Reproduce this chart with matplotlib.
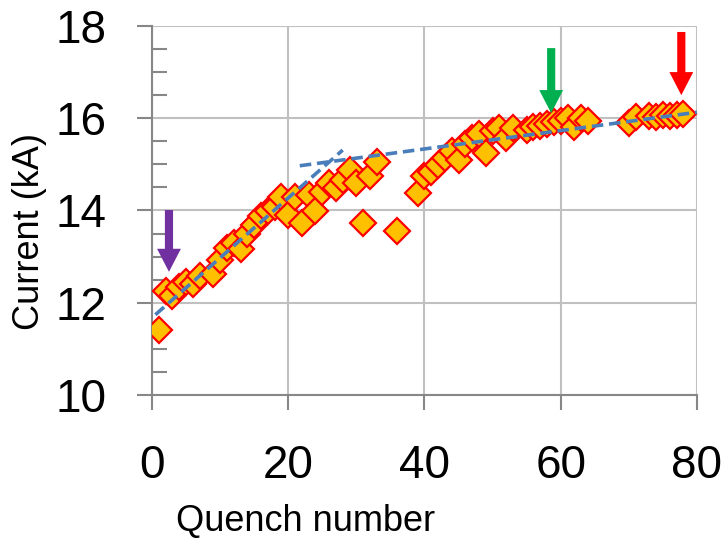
import matplotlib
matplotlib.use("Agg")
import matplotlib.pyplot as plt
from matplotlib.ticker import MultipleLocator

plt.rcParams['font.family'] = ['Liberation Sans', 'DejaVu Sans']

# quench number vs quench current (kA)
quench = [1, 2, 3, 4, 5, 6, 7, 9, 10, 11, 12, 13, 14, 15, 16, 17, 18, 19, 20,
          21, 22, 23, 24, 25, 26, 27, 28, 29, 30, 31, 32, 33, 36, 39, 40, 41,
          42, 43, 44, 45, 46, 47, 48, 49, 50, 51, 52, 53, 55, 56, 57, 58, 59,
          60, 61, 62, 63, 64, 70, 71, 73, 74, 75, 76, 77, 78]
current = [11.40, 12.25, 12.15, 12.35, 12.45, 12.40, 12.57, 12.62, 12.93, 13.19,
           13.30, 13.16, 13.50, 13.69, 13.87, 13.98, 14.08, 14.30, 13.90, 14.30,
           13.73, 14.34, 13.98, 14.41, 14.59, 14.48, 14.66, 14.88, 14.59, 13.73,
           14.74, 15.06, 13.55, 14.38, 14.74, 14.84, 14.99, 15.13, 15.28, 15.10,
           15.45, 15.58, 15.65, 15.24, 15.72, 15.78, 15.57, 15.78, 15.74, 15.80,
           15.84, 15.88, 15.92, 15.93, 16.00, 15.82, 16.00, 15.93, 15.90, 16.03,
           16.05, 16.03, 16.07, 16.05, 16.07, 16.10]

# linear trend lines (end points)
trend1_x = [0.5, 28.0]
trend1_y = [11.74, 15.31]
trend2_x = [21.7, 80.0]
trend2_y = [14.97, 16.13]

# arrows: x position, tail y, tip y, colour
arrow_x = [2.5, 58.6, 77.7]
arrow_top = [14.01, 17.52, 17.87]
arrow_tip = [12.67, 16.11, 16.50]
arrow_colors = ['#7030A0', '#00B050', '#FF0000']

fig = plt.figure(figsize=(7.27, 5.4), dpi=100)
ax = fig.add_axes([0.209, 0.2685, 0.7497, 0.6834])

grid_c = '#C0C0C0'
axis_c = '#878787'

ax.plot(quench, current, linestyle='none', marker='D', markersize=13,
        markerfacecolor='#FFC000', markeredgecolor='#FF0000',
        markeredgewidth=1.6, zorder=3)

ax.plot(trend1_x, trend1_y, color='#4A7EBB', lw=2.6,
        linestyle=(0, (3.2, 1.6)), zorder=4)
ax.plot(trend2_x, trend2_y, color='#4A7EBB', lw=2.6,
        linestyle=(0, (3.2, 1.6)), zorder=4)

for xa, yt, yh, c in zip(arrow_x, arrow_top, arrow_tip, arrow_colors):
    ax.arrow(xa, yt, 0, yh - yt, width=1.2, head_width=3.5,
             head_length=0.5, length_includes_head=True,
             color=c, lw=0, zorder=5)

ax.set_xlim(0, 80)
ax.set_ylim(10, 18)
ax.xaxis.set_major_locator(MultipleLocator(20))
ax.yaxis.set_major_locator(MultipleLocator(2))
ax.yaxis.set_minor_locator(MultipleLocator(0.5))

ax.grid(True, which='major', color=grid_c, lw=1.5)
ax.set_axisbelow(True)

for s in ['top', 'right']:
    ax.spines[s].set_visible(False)
for s in ['left', 'bottom']:
    ax.spines[s].set_color(axis_c)
    ax.spines[s].set_linewidth(1.5)

ax.tick_params(axis='both', which='major', direction='out', length=11,
               width=1.5, color=axis_c, labelsize=33)
ax.tick_params(axis='x', which='major', pad=24)
ax.tick_params(axis='y', which='major', pad=22)
ax.tick_params(axis='y', which='minor', direction='in', length=11,
               width=1.5, color=axis_c)

fig.text(306 / 727, 1 - 531 / 540, 'Quench number', fontsize=26,
         ha='center', va='baseline')
fig.text(29.5 / 727, 1 - 232 / 540, 'Current (kA)', fontsize=26,
         rotation=90, ha='center', va='center')

fig.savefig('out.png', dpi=100)
